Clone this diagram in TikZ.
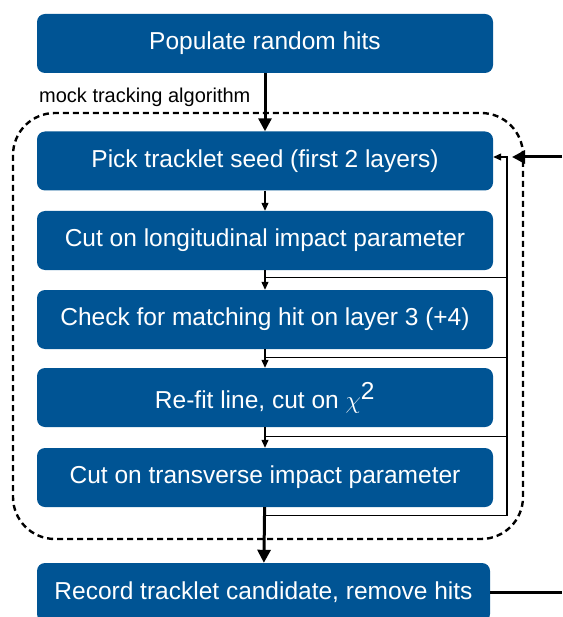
\documentclass[tikz,border=0pt]{standalone}
\usepackage{fontspec}
\setmainfont{Liberation Sans}
\usetikzlibrary{arrows.meta,calc}
\definecolor{stepblue}{RGB}{0,84,148}

\begin{document}
\begin{tikzpicture}[x=1pt,y=-1pt,
		stepbox/.style={fill=stepblue,text=white,rounded corners=8pt,minimum width=456pt,minimum height=59pt,inner sep=0pt,font=\fontsize{24.5}{28}\selectfont},
		flow/.style={line width=1.2pt,-{Triangle[length=8pt,width=7pt]}},
		mainflow/.style={line width=3pt,-{Triangle[length=13pt,width=13pt]}}]
		\useasboundingbox (0,0) rectangle (562,617);
		\clip (0,0) rectangle (562,617);
		\draw[line width=2.4pt,dash pattern=on 6pt off 4pt,rounded corners=42pt] (13,113) rectangle (523,539);
		\node[anchor=west,inner sep=0pt,font=\fontsize{20}{24}\selectfont] (looplabel) at (39,97) {mock tracking algorithm};
		\node[stepbox] (populate) at (265,43.5) {Populate random hits};
		\node[stepbox] (seed) at (265,161) {Pick tracklet seed (first 2 layers)};
		\node[stepbox] (longcut) at (265,240.5) {Cut on longitudinal impact parameter};
		\node[stepbox] (match) at (265,319.5) {Check for matching hit on layer 3 (+4)};
		\node[stepbox] (refit) at (265,397.5) {Re-fit line, cut on $\chi^{\textrm{2}}$};
		\node[stepbox] (transcut) at (265,477.5) {Cut on transverse impact parameter};
		\node[stepbox,minimum width=453pt] (record) at (263.5,592.5) {Record tracklet candidate, remove hits};
		\coordinate (loop) at (507,157);
		\coordinate (feedin) at (562,157);
		\coordinate (feedtip) at (512,157);
		\coordinate (b1) at ($(longcut.south)+(0,7)$);
		\coordinate (b2) at ($(match.south)+(0,8)$);
		\coordinate (b3) at ($(refit.south)+(0,9)$);
		\coordinate (b4) at ($(transcut.south)+(0,8)$);
		\draw[mainflow] (populate) -- (seed);
		\draw[flow] (seed) -- (longcut);
		\draw[flow] (longcut) -- (match);
		\draw[flow] (match) -- (refit);
		\draw[flow] (refit) -- (transcut);
		\draw[mainflow] (transcut) -- (record);
		\foreach\i in {1,2,3} {
			\draw[line width=1.2pt] (b\i) -- (b\i -| loop);
		}
		\draw[flow] (b4) -| (loop) -- (seed.east |- loop);
		\draw[mainflow] (feedin) -- (feedtip);
		\draw[line width=3pt] (record.east) -- (record.east -| feedin);
	\end{tikzpicture}
\end{document}
